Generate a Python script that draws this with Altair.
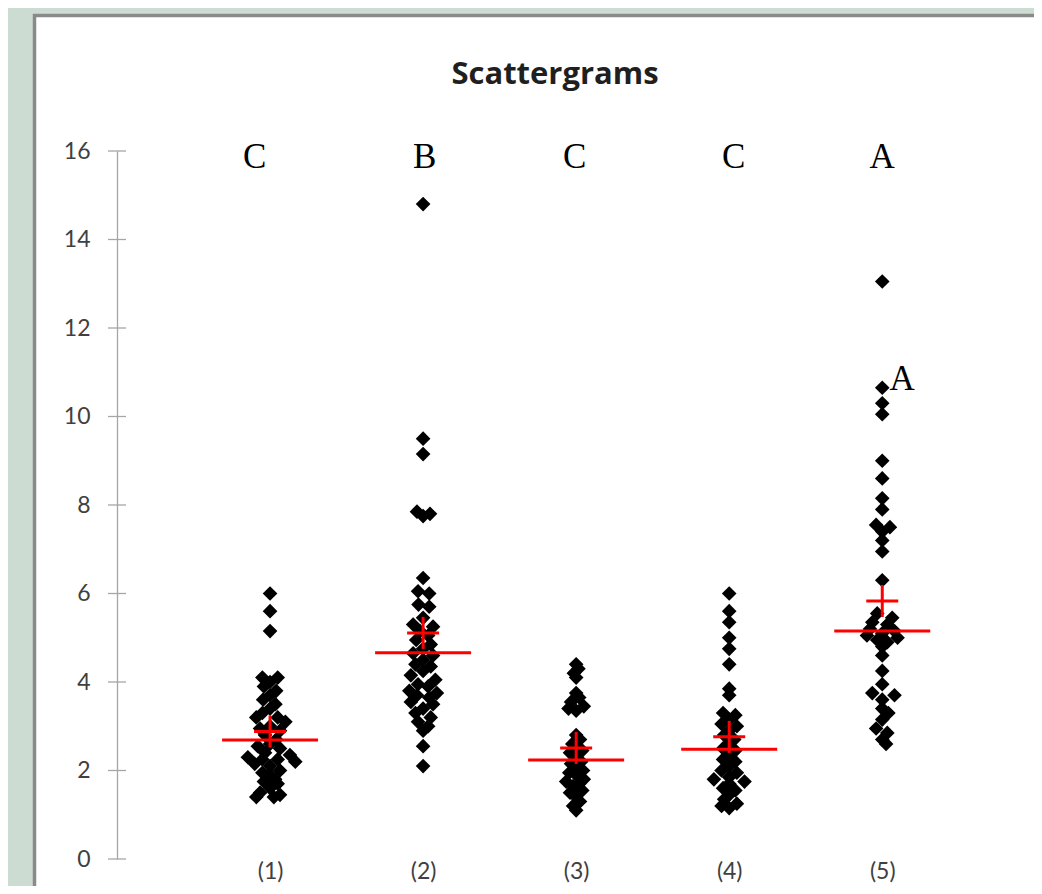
import altair as alt
import pandas as pd

# ---- data ----
categories = [1, 2, 3, 4, 5]
category_labels = ["(1)", "(2)", "(3)", "(4)", "(5)"]

g1_values = [6.0, 5.6, 5.15, 4.1, 4.1, 4.0, 3.9, 3.8, 3.7, 3.6, 3.5, 3.4, 3.3,
             3.2, 3.2, 3.1, 3.0, 2.95, 2.9, 2.8, 2.7, 2.6, 2.55,
             2.5, 2.4, 2.35, 2.3, 2.25, 2.25, 2.2, 2.15, 2.1, 2.0,
             1.95, 1.9, 1.8, 1.75, 1.7, 1.6, 1.5, 1.45, 1.4, 1.4]
g1_jitter = [0, 0, 0, -.05, .05, 0, -.04, .04, 0, -.045, .035, 0, -.05,
             .05, -.09, .1, 0, -.065, .065, -.033, .04, 0, -.08,
             .065, -.033, .13, -.145, .05, -.05, .165, -.1, 0, .065,
             -.05, 0, .033, -.04, .05, 0, -.065, .065, -.09, .025]

g2_values = [14.8, 9.5, 9.15, 7.85, 7.8, 7.75, 6.35, 6.05, 6.0, 5.75,
             5.7, 5.45, 5.3, 5.25, 5.15, 5.05, 4.95, 4.85, 4.75, 4.65,
             4.6, 4.5, 4.4, 4.35, 4.25, 4.15, 4.05, 3.95, 3.9, 3.8,
             3.75, 3.7, 3.65, 3.55, 3.5, 3.4, 3.3, 3.2, 3.1, 3.0,
             2.9, 2.55, 2.1]
g2_jitter = [0, 0, 0, -.04, .045, 0, 0, -.033, .04, -.03,
             .04, 0, -.065, .065, -.02, .033, -.045, .05, 0, -.065,
             .065, 0, -.05, .05, 0, -.08, .08, -.033, .033, -.09,
             .09, -.04, .04, -.08, .065, 0, -.05, .05, -.033, .033,
             0, 0, 0]

g3_values = [4.4, 4.3, 4.2, 4.1, 3.75, 3.65, 3.55, 3.45, 3.4, 3.35,
             2.8, 2.7, 2.6, 2.5, 2.45, 2.4, 2.3, 2.2, 2.15, 2.1,
             2.0, 1.95, 1.9, 1.8, 1.75, 1.7, 1.65, 1.55, 1.5, 1.4,
             1.3, 1.2, 1.1]
g3_jitter = [0, .015, -.015, 0, 0, .02, -.033, .05, -.05, 0,
             0, .025, -.025, 0, .04, -.04, 0, .033, -.033, 0,
             .045, -.045, 0, .05, -.065, .02, -.02, .04, -.04, 0,
             .025, -.02, 0]

g4_values = [6.0, 5.6, 5.35, 5.0, 4.75, 4.4, 3.85, 3.7, 3.3, 3.25,
             3.15, 3.05, 3.0, 2.9, 2.8, 2.7, 2.6, 2.5, 2.45, 2.35,
             2.25, 2.2, 2.1, 2.0, 1.95, 1.85, 1.8, 1.75, 1.7, 1.6,
             1.55, 1.45, 1.35, 1.25, 1.2, 1.15]
g4_jitter = [0, 0, 0, 0, 0, 0, 0, 0, -.04, .04,
             0, -.05, .05, 0, -.033, .033, 0, -.04, .04, 0,
             -.04, .04, 0, -.05, .05, 0, -.1, .1, 0, -.04,
             .04, 0, -.033, .05, -.05, 0]

g5_values = [13.05, 10.65, 10.3, 10.05, 9.0, 8.6, 8.15, 7.9, 7.55, 7.5,
             7.4, 7.2, 6.95, 6.3, 5.55, 5.45, 5.35, 5.3, 5.2, 5.15,
             5.1, 5.05, 5.0, 4.95, 4.9, 4.8, 4.6, 4.25, 3.95, 3.75,
             3.7, 3.6, 3.4, 3.3, 3.15, 2.95, 2.85, 2.7, 2.6]
g5_jitter = [0, 0, 0, 0, 0, 0, 0, 0, -.04, .05,
             0, 0, 0, 0, -.033, .065, -.065, .033, -.08, .08,
             0, -.1, .1, -.033, .033, 0, 0, 0, 0, -.065,
             .08, 0, 0, .04, 0, -.04, .033, 0, .025]

means = [2.88, 5.11, 2.51, 2.76, 5.83]
medians = [2.69, 4.66, 2.24, 2.48, 5.15]

letters = ["C", "B", "C", "C", "A", "A"]
letter_x = [0.9, 2.01, 2.99, 4.03, 5.0, 5.13]
letter_y = [15.62, 15.62, 15.62, 15.62, 15.62, 10.6]

y_ticks = [0, 2, 4, 6, 8, 10, 12, 14, 16]
chart_title = "Scattergrams"

# ---- tables ----
groups = [(g1_values, g1_jitter), (g2_values, g2_jitter), (g3_values, g3_jitter),
          (g4_values, g4_jitter), (g5_values, g5_jitter)]
rows = []
for cat, (vals, jit) in zip(categories, groups):
    for v, j in zip(vals, jit):
        rows.append({"x": cat + j, "y": v})
points_df = pd.DataFrame(rows)
stats_df = pd.DataFrame({"x": categories, "mean": means, "median": medians})
letters_df = pd.DataFrame({"x": letter_x, "y": letter_y, "t": letters})
ticks_df = pd.DataFrame({"y": y_ticks})
panel_df = pd.DataFrame({"a": [0]})
title_df = pd.DataFrame({"t": [chart_title]})

W, H = 903, 708
xscale = alt.Scale(domain=[0, 5.9], nice=False, zero=False)
yscale = alt.Scale(domain=[0, 16], nice=False)

label_expr = "'(' + datum.value + ')'"
x_axis = alt.Axis(values=categories, labelExpr=label_expr, domain=False, ticks=False,
                  grid=False, labelFont="Lato", labelFontSize=23, labelColor="#404040",
                  labelPadding=1, labelBaseline="top", title=None, zindex=1)
y_axis = alt.Axis(values=y_ticks, domain=True, domainColor="#a6a6a6", domainWidth=1.3,
                  ticks=False, grid=False, labelFont="Lato", labelFontSize=23,
                  labelColor="#404040", labelPadding=27, title=None, zindex=1)

panel = alt.Chart(panel_df).mark_rect(fill="white", stroke="#8a8a8a", strokeWidth=3.5).encode(
    x=alt.value(-82.5), x2=alt.value(1000), y=alt.value(-135.5), y2=alt.value(800)
)

title_mark = alt.Chart(title_df).mark_text(font="Open Sans", fontSize=31, fontWeight="bold",
                                           color="#1f1f1f", align="center",
                                           baseline="middle").encode(
    x=alt.value(438), y=alt.value(-76), text="t:N"
)

tick_rules = alt.Chart(ticks_df).mark_rule(color="#a6a6a6", strokeWidth=1.3).encode(
    x=alt.value(-9), x2=alt.value(9), y=alt.Y("y:Q", scale=yscale, axis=y_axis)
)

pts = alt.Chart(points_df).mark_point(shape="diamond", filled=True, color="black",
                                      size=215, opacity=1).encode(
    x=alt.X("x:Q", scale=xscale, axis=x_axis),
    y=alt.Y("y:Q", scale=yscale, axis=y_axis),
)

median_line = alt.Chart(stats_df).mark_tick(orient="horizontal", size=96, thickness=3,
                                            color="#ff0000", opacity=1).encode(
    x=alt.X("x:Q", scale=xscale), y=alt.Y("median:Q", scale=yscale)
)
mean_h = alt.Chart(stats_df).mark_tick(orient="horizontal", size=32, thickness=3,
                                       color="#ff0000", opacity=1).encode(
    x=alt.X("x:Q", scale=xscale), y=alt.Y("mean:Q", scale=yscale)
)
mean_v = alt.Chart(stats_df).mark_tick(orient="vertical", size=32, thickness=3,
                                       color="#ff0000", opacity=1).encode(
    x=alt.X("x:Q", scale=xscale), y=alt.Y("mean:Q", scale=yscale)
)

txt = alt.Chart(letters_df).mark_text(font="Liberation Serif", fontSize=35, color="black",
                                      align="center", baseline="alphabetic").encode(
    x=alt.X("x:Q", scale=xscale), y=alt.Y("y:Q", scale=yscale), text="t:N"
)

chart = alt.layer(panel, title_mark, tick_rules, pts, median_line, mean_h, mean_v, txt).properties(
    width=W, height=H,
    autosize=alt.AutoSizeParams(type="none"),
    padding={"left": 109, "top": 143, "right": 14, "bottom": 27},
    background="#cddcd2",
).configure_view(stroke=None)

chart.save("out.html", embed_options={"renderer": "svg", "actions": False})
